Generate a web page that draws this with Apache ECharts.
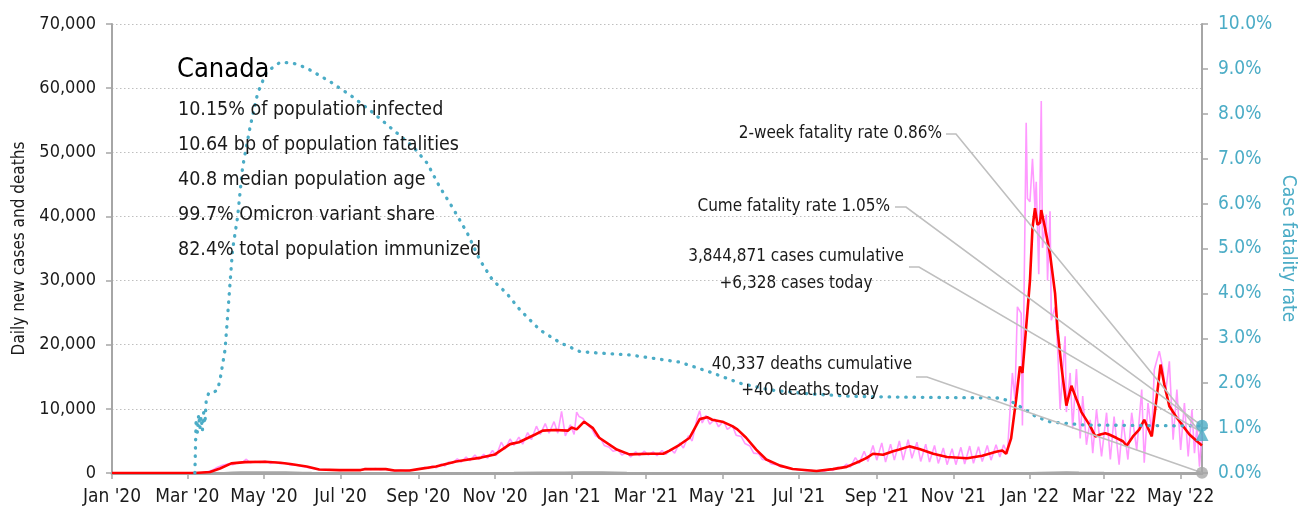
<!DOCTYPE html>
<html>
<head>
<meta charset="utf-8">
<script src="https://cdn.jsdelivr.net/npm/echarts@6/dist/echarts.min.js"></script>
<style>
html, body { margin: 0; padding: 0; background: #fff; }
#main { width: 1298px; height: 511px; }
</style>
</head>
<body>
<div id="main"></div>
<script>
var FONT = '"Liberation Sans Narrow", "DejaVu Sans Condensed", "Roboto", sans-serif';
var TEAL = '#4bacc6';

// axis range
var startDate = '2020-01-01';
var endDate = '2022-05-18';
var monthNames = ['Jan','Feb','Mar','Apr','May','Jun','Jul','Aug','Sep','Oct','Nov','Dec'];

// daily new cases (day offset from startDate, value)
var dailyDays = [0,50,62,68,72,76,80,84,88,92,96,100,104,107,110,114,118,122,126,130,134,138,142,146,150,154,158,162,166,170,174,178,182,186,190,194,198,202,206,210,214,218,222,226,230,234,238,242,246,249,252,255,258,262,265,268,271,275,278,282,285,289,292,296,299,303,306,310,313,317,320,324,327,331,334,338,341,345,348,352,355,358,361,365,368,370,372,375,378,382,385,389,392,396,399,403,406,410,413,417,420,424,427,431,434,438,441,445,448,452,455,459,462,466,468,470,473,476,480,483,487,490,494,497,501,504,508,511,515,518,522,525,529,532,536,539,543,546,550,553,557,560,564,567,571,574,578,581,585,588,592,595,599,602,606,609,613,616,620,623,627,630,634,637,641,644,648,651,655,658,662,665,669,672,676,679,683,686,690,693,697,700,704,707,710,713,717,719,721,724,725,728,729,731,733,735,736,738,740,741,744,745,747,748,751,753,755,759,760,763,765,768,771,773,776,779,781,784,788,792,795,798,802,805,809,812,816,820,822,825,828,830,834,837,839,842,845,848,851,854,857,860,862,864,866,868];
var dailyCases = [0,0,5,30,80,200,450,900,1200,1400,1300,1600,1700,2150,1600,1800,1650,1850,1500,1700,1450,1550,1250,1300,1050,950,750,650,500,520,420,470,380,500,420,470,450,680,560,700,520,620,400,360,460,350,460,500,650,900,700,1100,800,1400,1100,1700,1500,2200,1700,2500,1900,2800,2100,2900,2300,3500,2700,4800,3700,5300,4300,5600,4500,6300,5200,7300,6000,7700,6200,8000,6200,9600,5800,7500,6000,9500,8800,8500,7600,6900,5800,5400,4300,4000,3400,3600,2800,3200,2500,3300,2700,3400,2800,3300,2700,3500,2900,3700,3100,4700,3900,5800,5000,8600,9700,7800,9000,7600,8400,7200,8100,6800,7400,5900,5700,4600,4200,3100,3000,2100,2000,1400,1300,1000,900,700,650,500,450,350,400,300,400,250,600,400,900,700,1400,900,2400,1500,3400,1800,4300,2000,4700,1700,4500,2000,5000,2000,5200,2300,4800,1800,4500,1700,4300,1500,3900,1300,3800,1300,4000,1400,4200,1500,4100,1800,4300,2000,4400,2500,4400,3000,15600,11500,25900,24900,7400,54600,42800,42300,49000,41300,45400,31000,58000,35100,40300,30000,40800,23800,25900,19700,10000,21300,9500,15600,6900,16200,5400,12000,4400,8300,3100,9900,2600,9400,2100,8800,1300,8300,2100,9400,3600,13000,1600,10900,6200,16100,19000,16100,12500,17400,5200,13000,3600,10900,2600,9900,3100,7300,1000,6328];

// 7-day average of new cases
var avgDays = [0,66,78,86,95,106,122,134,142,155,165,181,198,201,218,225,237,244,258,274,284,294,305,317,324,337,343,353,363,366,370,376,383,388,402,412,427,439,444,452,460,468,474,478,486,494,498,505,513,521,532,542,561,574,585,595,601,606,614,622,627,635,643,654,665,681,693,704,709,712,716,720,723,725,728,731,733,735,737,739,740,743,747,751,753,756,760,764,768,772,779,783,787,791,794,800,805,808,813,818,822,825,828,832,835,838,842,848,853,858,864,868];
var avgCases = [0,10,150,700,1500,1700,1750,1600,1400,1000,550,450,450,600,600,400,400,600,1000,1800,2100,2400,2900,4500,4800,6000,6600,6700,6600,7100,6800,8000,7000,5500,3650,2900,3000,3000,3500,4400,5500,8400,8700,8300,8000,7300,6800,5500,3650,2100,1150,625,300,600,950,1800,2350,3000,2850,3400,3650,4150,3750,3000,2500,2300,2700,3300,3500,3000,5400,11500,16600,15600,22800,30000,38200,41300,38700,39000,41000,38200,34100,28000,22300,16700,10500,13600,11500,9500,7300,5700,6000,6200,6000,5450,4950,4250,5700,6750,8300,7000,5700,11950,16900,13800,10400,8600,7300,6000,4950,4300];

// daily deaths
var deathDays = [0,60,75,82,89,96,103,110,117,124,131,138,145,152,159,166,180,200,230,260,280,300,320,340,360,375,390,410,430,450,470,490,510,530,560,590,620,650,680,710,730,750,760,770,790,810,830,850,868];
var deathValues = [0,0,5,20,50,100,140,160,170,160,150,140,120,90,60,40,20,10,6,10,20,40,70,110,130,160,140,90,50,35,40,50,40,20,8,15,30,25,20,20,50,130,160,120,60,35,40,50,40];

// case fatality rate, percent
var cfrDays = [66,67,68,69,70,71,72,73,74,75,76,77,78,80,84,86,90,92,94,96,100,104,110,116,123,134,144,155,174,192,208,224,240,251,261,271,283,293,303,314,325,341,357,373,412,452,476,500,524,556,587,627,707,717,728,736,747,773,853,868];
var cfrValues = [0.0,1.2,0.9,1.3,1.0,1.25,0.95,1.35,1.1,1.6,1.7,1.78,1.78,1.78,1.85,2.07,2.74,3.47,4.23,4.97,5.70,6.81,7.71,8.46,8.93,9.15,9.13,9.02,8.71,8.37,8.02,7.64,7.26,6.90,6.37,5.92,5.34,4.74,4.30,4.01,3.63,3.18,2.90,2.70,2.63,2.47,2.25,2.0,1.85,1.76,1.71,1.69,1.67,1.58,1.40,1.25,1.14,1.07,1.05,1.05];

// latest values
var cumeCfr = 1.05;
var twoWeekCfr = 0.86;
var casesToday = 6328;
var deathsToday = 40;
var casesCumulative = 3844871;
var deathsCumulative = 40337;

var statLines = [
  '10.15% of population infected',
  '10.64 bp of population fatalities',
  '40.8 median population age',
  '99.7% Omicron variant share',
  '82.4% total population immunized'
];

// build daily categories
var categories = [];
var d0 = new Date(startDate + 'T00:00:00Z');
var dEnd = new Date(endDate + 'T00:00:00Z');
for (var t = d0.getTime(); t <= dEnd.getTime(); t += 86400000) {
  categories.push(new Date(t).toISOString().slice(0, 10));
}
var lastIdx = categories.length - 1;

function pairs(xs, ys) {
  return xs.map(function (x, i) { return [x, ys[i]]; });
}
function isTick(index, value) {
  return value.slice(8) === '01' && parseInt(value.slice(5, 7), 10) % 2 === 1;
}
function fmt(n) {
  return n.toLocaleString('en-US');
}

var myChart = echarts.init(document.getElementById('main'));
var option = {
  animation: false,
  textStyle: { fontFamily: FONT },
  grid: { left: 112, right: 96, top: 24, bottom: 38, containLabel: false, outerBoundsMode: 'none' },
  xAxis: {
    type: 'category',
    data: categories,
    boundaryGap: false,
    axisLine: { lineStyle: { color: '#a6a6a6', width: 3 } },
    axisTick: { show: true, interval: isTick, length: 6, lineStyle: { color: '#a6a6a6', width: 1.5 } },
    axisLabel: {
      interval: isTick,
      margin: 15,
      color: '#1a1a1a',
      fontSize: 19,
      fontFamily: FONT,
      formatter: function (v) {
        return monthNames[parseInt(v.slice(5, 7), 10) - 1] + " '" + v.slice(2, 4);
      }
    },
    splitLine: { show: false }
  },
  yAxis: [
    {
      type: 'value',
      min: 0, max: 70000, interval: 10000,
      name: 'Daily new cases and deaths',
      nameLocation: 'middle',
      nameGap: 74,
      nameRotate: 90,
      nameTextStyle: { fontSize: 17, color: '#1a1a1a', fontFamily: FONT },
      axisLine: { show: true, lineStyle: { color: '#a6a6a6', width: 2 } },
      axisTick: { show: true, length: 6, lineStyle: { color: '#a6a6a6', width: 1.5 } },
      axisLabel: { margin: 16, color: '#1a1a1a', fontSize: 18, fontFamily: FONT, formatter: fmt },
      splitLine: { lineStyle: { color: '#bfbfbf', type: [1.5, 2.5], width: 1.2 } }
    },
    {
      type: 'value',
      min: 0, max: 10, interval: 1,
      position: 'right',
      name: 'Case fatality rate',
      nameLocation: 'middle',
      nameGap: 76,
      nameMoveOverlap: false,
      nameRotate: -90,
      nameTextStyle: { fontSize: 19, color: TEAL, fontFamily: FONT },
      axisLine: { show: true, lineStyle: { color: '#a6a6a6', width: 2 } },
      axisTick: { show: true, length: 6, lineStyle: { color: '#a6a6a6', width: 1.5 } },
      axisLabel: {
        margin: 16, color: TEAL, fontSize: 19, fontFamily: FONT,
        formatter: function (v) { return v.toFixed(1) + '%'; }
      },
      splitLine: { show: false }
    }
  ],
  series: [
    {
      name: 'Daily cases',
      type: 'line',
      data: pairs(dailyDays, dailyCases),
      showSymbol: false,
      lineStyle: { color: '#ff99ff', width: 1.6 },
      z: 2
    },
    {
      name: 'Deaths',
      type: 'line',
      data: pairs(deathDays, deathValues),
      showSymbol: false,
      lineStyle: { color: '#a6a6a6', width: 1.5 },
      z: 3
    },
    {
      name: 'Cases 7-day average',
      type: 'line',
      data: pairs(avgDays, avgCases),
      showSymbol: false,
      lineStyle: { color: '#ff0000', width: 2.6 },
      z: 4
    },
    {
      name: 'Case fatality rate',
      type: 'line',
      yAxisIndex: 1,
      data: pairs(cfrDays, cfrValues),
      showSymbol: false,
      lineStyle: { color: TEAL, width: 3.3, type: [0.5, 7.8], cap: 'round' },
      z: 5
    },
    {
      type: 'scatter',
      yAxisIndex: 1,
      clip: false,
      symbol: 'circle',
      symbolSize: 12,
      itemStyle: { color: TEAL },
      data: [[lastIdx, cumeCfr]],
      z: 8
    },
    {
      type: 'scatter',
      yAxisIndex: 1,
      clip: false,
      symbol: 'triangle',
      symbolSize: 13,
      itemStyle: { color: TEAL },
      data: [[lastIdx, twoWeekCfr]],
      z: 8
    },
    {
      type: 'scatter',
      clip: false,
      symbol: 'circle',
      symbolSize: 12,
      itemStyle: { color: '#a6a6a6' },
      data: [[lastIdx, deathsToday]],
      z: 8
    }
  ]
};
myChart.setOption(option);

// annotation text and leader lines
var pTri = myChart.convertToPixel({ xAxisIndex: 0, yAxisIndex: 1 }, [lastIdx, twoWeekCfr]);
var pCirc = myChart.convertToPixel({ xAxisIndex: 0, yAxisIndex: 1 }, [lastIdx, cumeCfr]);
var pCases = myChart.convertToPixel({ xAxisIndex: 0, yAxisIndex: 0 }, [lastIdx, casesToday]);
var pDeaths = myChart.convertToPixel({ xAxisIndex: 0, yAxisIndex: 0 }, [lastIdx, deathsToday]);

function txt(s, x, y, size, align, color) {
  return {
    type: 'text', x: x, y: y, z: 20,
    style: { text: s, font: size + 'px ' + FONT, fill: color || '#1a1a1a', align: align || 'left', verticalAlign: 'middle' }
  };
}
function leader(x0, x1, y, end) {
  return {
    type: 'polyline', z: 6,
    shape: { points: [[x0, y], [x1, y], end] },
    style: { stroke: '#bfbfbf', lineWidth: 1.6, fill: null }
  };
}

var g = [];
g.push(txt('Canada', 177, 70, 27, 'left', '#000'));
statLines.forEach(function (s, i) {
  g.push(txt(s, 178, 110 + i * 35, 19.5, 'left'));
});
g.push(txt('2-week fatality rate ' + twoWeekCfr.toFixed(2) + '%', 942, 134, 17, 'right'));
g.push(txt('Cume fatality rate ' + cumeCfr.toFixed(2) + '%', 890, 207, 17, 'right'));
g.push(txt(fmt(casesCumulative) + ' cases cumulative', 796, 257, 17, 'center'));
g.push(txt('+' + fmt(casesToday) + ' cases today', 796, 284, 17, 'center'));
g.push(txt(fmt(deathsCumulative) + ' deaths cumulative', 812, 365, 17, 'center'));
g.push(txt('+' + deathsToday + ' deaths today', 810, 391, 17, 'center'));
g.push(leader(946, 956, 134, pTri));
g.push(leader(895, 906, 207, pCirc));
g.push(leader(909, 919, 267, pCases));
g.push(leader(916, 927, 377, pDeaths));
myChart.setOption({ graphic: g });
</script>
</body>
</html>
